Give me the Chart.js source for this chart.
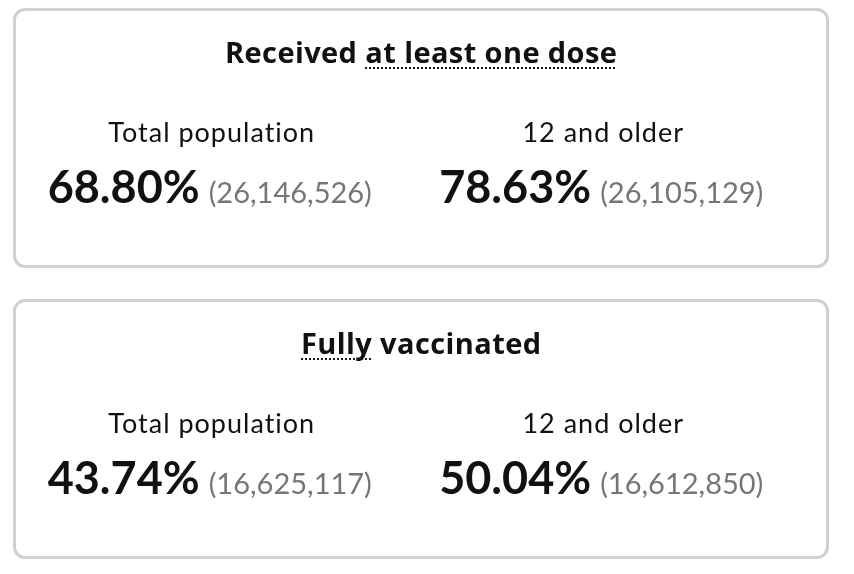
<!DOCTYPE html>
<html>
<head>
<meta charset="utf-8">
<script src="https://cdn.jsdelivr.net/npm/chart.js@4.4.1/dist/chart.umd.min.js"></script>
<style>
  html, body { margin: 0; padding: 0; background: #ffffff; }
  .card {
    position: absolute;
    left: 13px;
    width: 816px;
    height: 260px;
    box-sizing: border-box;
    border: 3px solid #d0d0d0;
    border-radius: 12px;
    background: #ffffff;
  }
  .card canvas { display: block; }
</style>
</head>
<body>
<div class="card" style="top: 8px;"><canvas id="chart_dose"></canvas></div>
<div class="card" style="top: 299px;"><canvas id="chart_full"></canvas></div>

<script>
// Groups shown in each card
const groups = ['Total population', '12 and older'];

// Received at least one dose
const doseTitle = ['Received ', 'at least one dose'];
const dosePercent = [68.80, 78.63];
const doseCount = [26146526, 26105129];

// Fully vaccinated
const fullTitle = ['', 'Fully', ' vaccinated'];
const fullPercent = [43.74, 50.04];
const fullCount = [16625117, 16612850];

const titleFont = 'bold 29px "Open Sans"';
const labelFont = '27px Lato';
const bigFont = 'bold 45px Lato';
const countFont = '29px Lato';

// draw the title, dotted underline on the part that has a tooltip term
function drawTitle(ctx, parts, centerX, baseY) {
    ctx.font = titleFont;
    ctx.letterSpacing = '0.4px';
    const widths = parts.map(p => ctx.measureText(p).width);
    const total = widths.reduce((a, b) => a + b, 0);
    let x = Math.round(centerX - total / 2);
    ctx.fillStyle = '#111111';
    ctx.textBaseline = 'alphabetic';
    ctx.textAlign = 'left';
    parts.forEach((p, i) => {
        ctx.fillText(p, x, baseY);
        // odd index = dotted term
        if (i % 2 === 1 && p.trim()) {
            ctx.save();
            ctx.strokeStyle = '#1a1a1a';
            ctx.lineWidth = 2;
            ctx.setLineDash([2, 2]);
            ctx.beginPath();
            ctx.moveTo(Math.round(x), baseY + 5);
            ctx.lineTo(Math.round(x + ctx.measureText(p.trimEnd()).width), baseY + 5);
            ctx.stroke();
            ctx.restore();
        }
        x += widths[i];
    });
    ctx.letterSpacing = '0px';
}

// plugin which writes the stat text at the category positions of the x scale
const statText = {
    id: 'statText',
    afterDatasetsDraw(chart, args, opts) {
        const ctx = chart.ctx;
        const xScale = chart.scales.x;
        ctx.save();
        drawTitle(ctx, opts.title, chart.width / 2, 52);

        chart.data.labels.forEach((label, i) => {
            const cx = xScale.getPixelForTick(i);
            ctx.textAlign = 'center';
            ctx.textBaseline = 'alphabetic';
            ctx.font = labelFont;
            ctx.letterSpacing = '1px';
            ctx.fillStyle = '#111111';
            ctx.fillText(label, cx, 131);
            ctx.letterSpacing = '0px';

            const pct = chart.data.datasets[0].data[i].toFixed(2) + '%';
            const cnt = '(' + opts.counts[i].toLocaleString('en-US') + ')';
            ctx.font = bigFont;
            const wPct = ctx.measureText(pct).width;
            ctx.font = countFont;
            const wCnt = ctx.measureText(cnt).width;
            const gap = 9;
            let x = cx - 2 - (wPct + gap + wCnt) / 2;
            ctx.textAlign = 'left';
            ctx.font = bigFont;
            ctx.fillStyle = '#111111';
            ctx.fillText(pct, x, 192);
            ctx.font = countFont;
            ctx.fillStyle = '#767676';
            ctx.fillText(cnt, x + wPct + gap, 192);
        });
        ctx.restore();
    }
};

function makeCard(id, title, percents, counts) {
    const ctx = document.getElementById(id).getContext('2d');
    return new Chart(ctx, {
        type: 'bar',
        data: {
            labels: groups,
            datasets: [{
                data: percents,
                backgroundColor: 'rgba(0,0,0,0)',
                borderWidth: 0
            }]
        },
        options: {
            responsive: true,
            maintainAspectRatio: false,
            animation: false,
            events: [],
            layout: { padding: { left: 0, right: 27, top: 0, bottom: 0 } },
            plugins: {
                legend: { display: false },
                tooltip: { enabled: false },
                statText: { title: title, counts: counts }
            },
            scales: {
                x: { display: false },
                y: { display: false, min: 0, max: 100 }
            }
        },
        plugins: [statText]
    });
}

document.fonts.load('bold 29px "Open Sans"').then(() => document.fonts.load('27px Lato'))
    .then(() => document.fonts.load('bold 45px Lato'))
    .finally(() => {
        makeCard('chart_dose', doseTitle, dosePercent, doseCount);
        makeCard('chart_full', fullTitle, fullPercent, fullCount);
    });
</script>
</body>
</html>
